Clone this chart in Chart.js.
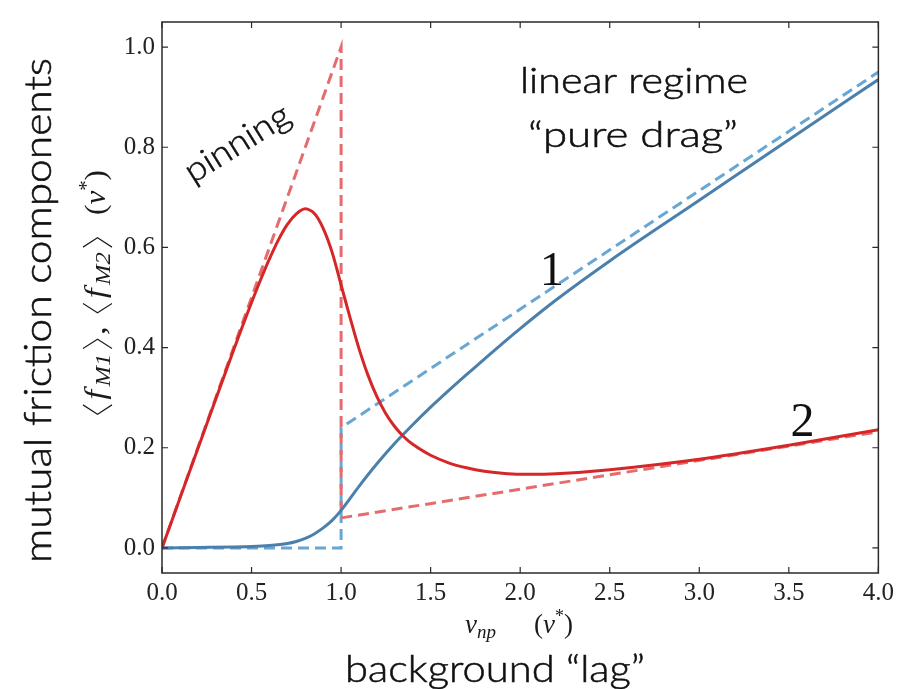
<!DOCTYPE html>
<html><head><meta charset="utf-8">
<script src="https://cdn.jsdelivr.net/npm/chart.js@4.4.1/dist/chart.umd.min.js"></script>
<style>html,body{margin:0;padding:0;background:#fff;} canvas{display:block;}</style>
</head><body>
<canvas id="c" width="899" height="689"></canvas>
<script>
// ---- data ----
const xTicks = [0, 0.5, 1, 1.5, 2, 2.5, 3, 3.5, 4];
const yTicks = [0, 0.2, 0.4, 0.6, 0.8, 1.0];

// <f_M2> (curve 2, red, solid)
const redX = [0, 0.1, 0.2, 0.3, 0.4, 0.45, 0.5, 0.55, 0.6, 0.65, 0.7, 0.75, 0.8, 0.85, 0.9, 0.95, 1.0, 1.05, 1.1, 1.15, 1.2, 1.25, 1.3, 1.35, 1.4, 1.5, 1.6, 1.7, 1.8, 1.9, 2.0, 2.2, 2.5, 3.0, 3.5, 4.0];
const redY = [0, 0.099, 0.198, 0.297, 0.395, 0.443, 0.49, 0.535, 0.577, 0.615, 0.646, 0.667, 0.677, 0.668, 0.638, 0.59, 0.525, 0.46, 0.398, 0.345, 0.302, 0.268, 0.242, 0.222, 0.207, 0.185, 0.17, 0.16, 0.153, 0.149, 0.147, 0.148, 0.156, 0.177, 0.205, 0.236];
// <f_M1> (curve 1, blue, solid)
const blueX = [0, 0.2, 0.4, 0.5, 0.6, 0.7, 0.75, 0.8, 0.85, 0.9, 0.95, 1.0, 1.1, 1.2, 1.3, 1.4, 1.5, 1.6, 1.7, 1.8, 1.9, 2.0, 2.2, 2.5, 3.0, 3.5, 4.0];
const blueY = [0, 0.001, 0.002, 0.003, 0.005, 0.009, 0.013, 0.019, 0.028, 0.04, 0.055, 0.075, 0.123, 0.168, 0.209, 0.246, 0.281, 0.314, 0.346, 0.377, 0.408, 0.438, 0.495, 0.573, 0.694, 0.815, 0.935];
// asymptotic (dashed) limits
const redLimX = [0, 1, 1, 4];
const redLimY = [0, 1.0, 0.06, 0.232];
const blueLimX = [0, 1, 1, 4];
const blueLimY = [0, 0, 0.24, 0.95];

const pts = (xs, ys) => xs.map((x, i) => ({x: x, y: ys[i]}));

const HAND = '"Lato", "Noto Sans", sans-serif';
const SERIF = '"Liberation Serif", "DejaVu Serif", serif';

function fitText(ctx, text, x, y, width, font, rot) {
  ctx.save();
  ctx.font = font;
  const w = ctx.measureText(text).width;
  ctx.translate(x, y);
  if (rot) ctx.rotate(rot);
  ctx.scale(width / w, 1);
  ctx.textAlign = 'left';
  ctx.textBaseline = 'alphabetic';
  ctx.lineWidth = 0.55;
  ctx.strokeStyle = ctx.fillStyle;
  ctx.fillText(text, 0, 0);
  ctx.strokeText(text, 0, 0);
  ctx.restore();
}
// runs: text pieces {t,f,dy}, brackets {br:'l'|'r', w, h, d}, spacer {sp}, flexible gap {gap:true}
function drawRuns(ctx, runs, x, y, rot, targetW, stretch) {
  ctx.save();
  ctx.textAlign = 'left';
  ctx.textBaseline = 'alphabetic';
  let total = 0, gaps = 0;
  runs.forEach(r => {
    if (r.gap) { gaps++; r.w = 0; return; }
    if (r.sp) { r.w = r.sp; total += r.w; return; }
    if (r.br) { total += r.w; return; }
    ctx.font = r.f; r.w = ctx.measureText(r.t).width; total += r.w;
  });
  const extra = Math.max(0, targetW - total);
  if (gaps) runs.forEach(r => { if (r.gap) r.w = extra / gaps; });
  ctx.translate(x, y);
  if (rot) ctx.rotate(rot);
  if (stretch) ctx.scale(targetW / total, 1);
  let cx = 0;
  runs.forEach(r => {
    if (r.br) {
      ctx.save();
      ctx.strokeStyle = ctx.fillStyle;
      ctx.lineWidth = 1.1;
      ctx.beginPath();
      if (r.br === 'l') {
        ctx.moveTo(cx + r.w - 1.5, -r.h); ctx.lineTo(cx + 1.5, (r.d - r.h) / 2); ctx.lineTo(cx + r.w - 1.5, r.d);
      } else {
        ctx.moveTo(cx + 1.5, -r.h); ctx.lineTo(cx + r.w - 1.5, (r.d - r.h) / 2); ctx.lineTo(cx + 1.5, r.d);
      }
      ctx.stroke();
      ctx.restore();
    } else if (r.t !== undefined) {
      ctx.font = r.f; ctx.fillText(r.t, cx, r.dy || 0);
    }
    cx += r.w;
  });
  ctx.restore();
}

const framePlugin = {
  id: 'frame',
  afterDatasetsDraw(chart) {
    const {ctx, chartArea: a, scales} = chart;
    ctx.save();
    ctx.strokeStyle = '#2a2a2a';
    ctx.lineWidth = 1.5;
    ctx.strokeRect(a.left, a.top, a.right - a.left, a.bottom - a.top);
    ctx.lineWidth = 1.2;
    const L = 6;
    ctx.beginPath();
    xTicks.forEach(v => {
      const px = scales.x.getPixelForValue(v);
      ctx.moveTo(px, a.bottom); ctx.lineTo(px, a.bottom - L);
      ctx.moveTo(px, a.top); ctx.lineTo(px, a.top + L);
    });
    yTicks.forEach(v => {
      const py = scales.y.getPixelForValue(v);
      ctx.moveTo(a.left, py); ctx.lineTo(a.left + L, py);
      ctx.moveTo(a.right, py); ctx.lineTo(a.right - L, py);
    });
    ctx.stroke();
    ctx.restore();
  },
  afterDraw(chart) {
    const {ctx, scales} = chart;
    const X = v => scales.x.getPixelForValue(v), Y = v => scales.y.getPixelForValue(v);
    ctx.save();
    ctx.fillStyle = '#111';
    // handwritten annotations
    fitText(ctx, 'pinning', 193, 184, 118, '300 34px ' + HAND, -32 * Math.PI / 180);
    fitText(ctx, 'linear regime', 520, 93, 228, '300 36px ' + HAND);
    fitText(ctx, '\u201Cpure drag\u201D', 528, 147, 210, '300 36px ' + HAND);
    fitText(ctx, 'mutual friction components', 51, 563, 505, '300 38px ' + HAND, -Math.PI / 2);
    fitText(ctx, 'background \u201Clag\u201D', 345, 682, 300, '300 38px ' + HAND);
    // curve numbers
    ctx.font = '48px ' + SERIF;
    ctx.textAlign = 'center';
    ctx.textBaseline = 'alphabetic';
    ctx.fillText('1', X(2.176), Y(0.524));
    ctx.fillText('2', X(3.577), Y(0.224));
    ctx.fillStyle = '#1a1a1a';
    // x math title
    const mi = 'italic 27px ' + SERIF, ms = 'italic 19px ' + SERIF, rm = '27px ' + SERIF, sup = '18px ' + SERIF;
    drawRuns(ctx, [
      {t: 'v', f: mi}, {t: 'np', f: ms, dy: 5}, {gap: true}, {t: '(', f: rm}, {t: 'v', f: mi}, {t: '*', f: sup, dy: -11}, {t: ')', f: rm}
    ], 465, 633, 0, 108);
    // y math title: <f_M1>, <f_M2>   (v*)
    const mi2 = 'italic 30px ' + SERIF, ms2 = 'italic 21px ' + SERIF, rm2 = '30px ' + SERIF, sup2 = '20px ' + SERIF;
    const B = (s) => ({br: s, w: 11, h: 22, d: 7});
    drawRuns(ctx, [
      B('l'), {sp: 3}, {t: 'f', f: mi2}, {sp: 3}, {t: 'M1', f: ms2, dy: 5}, {sp: 3}, B('r'), {sp: 2}, {t: ',', f: rm2}, {sp: 10},
      B('l'), {sp: 3}, {t: 'f', f: mi2}, {sp: 3}, {t: 'M2', f: ms2, dy: 5}, {sp: 3}, B('r')
    ], 105, 416, -Math.PI / 2, 180, true);
    drawRuns(ctx, [
      {t: '(', f: rm2}, {t: 'v', f: mi2}, {t: '*', f: sup2, dy: -12}, {t: ')', f: rm2}
    ], 105, 215, -Math.PI / 2, 45, true);
    ctx.restore();
  }
};

const common = {pointRadius: 0, pointHoverRadius: 0, borderWidth: 3, fill: false, showLine: true};

new Chart(document.getElementById('c'), {
  type: 'line',
  data: {
    datasets: [
      Object.assign({label: 'fM2', data: pts(redX, redY), borderColor: '#d62728', tension: 0.3, order: 0}, common),
      Object.assign({label: 'fM1', data: pts(blueX, blueY), borderColor: '#4a80ab', cubicInterpolationMode: 'monotone', order: 1}, common),
      Object.assign({label: 'fM2 limit', data: pts(redLimX, redLimY), borderColor: '#e56b6d', borderDash: [11, 6], tension: 0, order: 2}, common),
      Object.assign({label: 'fM1 limit', data: pts(blueLimX, blueLimY), borderColor: '#68a6d4', borderDash: [11, 6], tension: 0, order: 3}, common)
    ]
  },
  options: {
    responsive: false,
    animation: false,
    events: [],
    layout: {padding: {left: 0, right: 20, top: 11, bottom: 0}},
    plugins: {legend: {display: false}, tooltip: {enabled: false}},
    scales: {
      x: {
        type: 'linear', min: 0, max: 4,
        afterBuildTicks: s => { s.ticks = xTicks.map(v => ({value: v})); },
        ticks: {callback: v => v.toFixed(1), font: {family: SERIF, size: 25}, color: '#222', padding: 5, maxRotation: 0, autoSkip: false},
        grid: {display: false, drawTicks: false},
        border: {display: false},
        afterFit: s => { s.height = 116; }
      },
      y: {
        type: 'linear', min: -0.05, max: 1.05,
        afterBuildTicks: s => { s.ticks = yTicks.map(v => ({value: v})); },
        ticks: {callback: v => v.toFixed(1), font: {family: SERIF, size: 25}, color: '#222', padding: 7},
        grid: {display: false, drawTicks: false},
        border: {display: false},
        afterFit: s => { s.width = 162; }
      }
    }
  },
  plugins: [framePlugin]
});
</script>
</body></html>
